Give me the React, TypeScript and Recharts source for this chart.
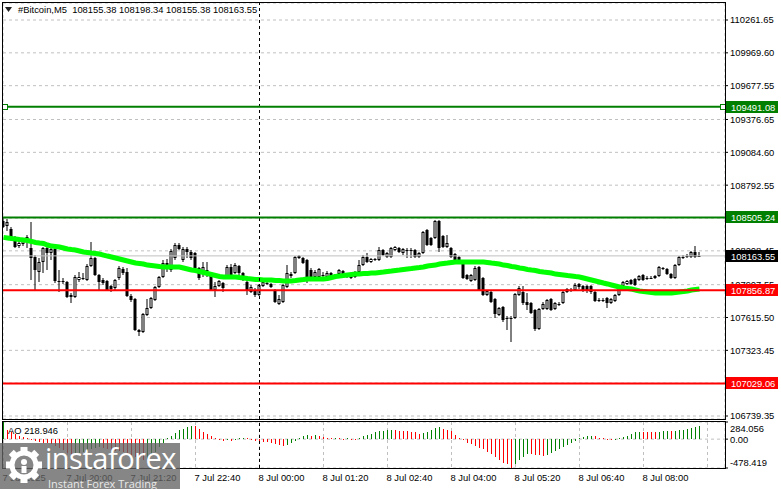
import React from "react";
import {
  ComposedChart,
  Bar,
  Line,
  XAxis,
  YAxis,
  CartesianGrid,
  ReferenceLine,
  ReferenceDot,
} from "recharts";

const FONT = '"Liberation Sans", "DejaVu Sans", Arial, sans-serif';

/* ===== Data (M5 bars, 7 Jul 18:40 -> 8 Jul 09:10) ===== */
const OPEN = [
  108474, 108429, 108403, 108323, 108251, 108269, 108296, 108234, 108154, 108020,
  108109, 108234, 108189, 108225, 107940, 107935, 107931, 107816, 107798, 107949,
  107967, 107949, 108074, 108145, 107994, 107949, 107940, 107896, 107878, 107967,
  108047, 108020, 107807, 107780, 107504, 107487, 107638, 107700, 107771, 107887,
  107976, 108100, 108038, 108145, 108260, 108127, 108225, 108198, 108189, 108056,
  108011, 108040, 107994, 107860, 107896, 107922, 107976, 108065, 108011, 108074,
  108011, 107931, 107842, 107860, 107816, 107896, 107924, 107914, 107860, 107736,
  107753, 107887, 107985, 108011, 108162, 108145, 108127, 108038, 107976, 107976,
  107996, 107976, 108011, 107987, 108002, 108029, 107976, 107994, 108011, 108020,
  108082, 108154, 108109, 108127, 108127, 108216, 108154, 108154, 108216, 108234,
  108189, 108218, 108216, 108216, 108154, 108189, 108394, 108323, 108323, 108474,
  108340, 108243, 108234, 108180, 108154, 108100, 107994, 107940, 107949, 108065,
  107967, 107816, 107842, 107780, 107638, 107709, 107613, 107609, 107611, 107816,
  107842, 107753, 107745, 107682, 107513, 107691, 107691, 107780, 107691, 107738,
  107745, 107842, 107851, 107860, 107914, 107896, 107896, 107896, 107842, 107773,
  107771, 107789, 107745, 107762, 107816, 107896, 107914, 107949, 107958, 107949,
  107994, 107969, 107967, 107967, 107985, 108058, 108047, 108002, 107967, 108082,
  108152, 108154, 108154, 108198, 108155.38,
];
const HIGH = [
  108509, 108492, 108420, 108340, 108296, 108323, 108349, 108465, 108171, 108145,
  108243, 108243, 108234, 108234, 108038, 107967, 107940, 107833, 107994, 108020,
  108011, 108091, 108287, 108154, 108002, 107967, 107949, 107905, 107958, 108074,
  108065, 108056, 107825, 107789, 107513, 107656, 107780, 107798, 107896, 107985,
  108127, 108136, 108225, 108278, 108278, 108243, 108243, 108216, 108198, 108065,
  108109, 108109, 108002, 107931, 107949, 107931, 108082, 108091, 108100, 108082,
  108020, 107949, 107905, 107878, 107914, 107940, 107940, 107922, 107869, 107816,
  107914, 108082, 108020, 108162, 108171, 108154, 108136, 108056, 108038, 108056,
  108020, 108029, 108020, 108002, 108047, 108038, 108011, 108011, 108029, 108127,
  108171, 108189, 108145, 108145, 108243, 108225, 108198, 108243, 108251, 108243,
  108234, 108234, 108234, 108225, 108198, 108385, 108403, 108332, 108483, 108483,
  108349, 108349, 108243, 108189, 108162, 108109, 108002, 108002, 108074, 108074,
  107976, 107860, 107851, 107789, 107709, 107718, 107629, 107629, 107833, 107896,
  107896, 107833, 107753, 107691, 107700, 107753, 107780, 107789, 107753, 107753,
  107851, 107878, 107878, 107922, 107922, 107905, 107905, 107905, 107851, 107789,
  107789, 107798, 107789, 107825, 107896, 107940, 107949, 107958, 107967, 107994,
  108002, 107985, 107985, 107994, 108074, 108065, 108056, 108011, 108091, 108162,
  108171, 108180, 108207, 108251, 108198.34,
];
const LOW = [
  108412, 108385, 108323, 108234, 108234, 108251, 108234, 107949, 107860, 107931,
  108011, 108038, 108127, 107922, 107842, 107914, 107789, 107745, 107789, 107931,
  107949, 107940, 108065, 107985, 107860, 107905, 107851, 107842, 107860, 107949,
  107994, 107798, 107753, 107495, 107451, 107478, 107629, 107691, 107762, 107878,
  107967, 108020, 108020, 108127, 108216, 108109, 108145, 108127, 108038, 107949,
  107976, 107976, 107851, 107798, 107887, 107842, 107967, 107985, 108002, 107994,
  107940, 107816, 107833, 107798, 107807, 107887, 107905, 107878, 107745, 107727,
  107745, 107878, 107967, 108002, 108136, 108091, 107922, 107967, 107967, 107967,
  107967, 107967, 107958, 107967, 107994, 107985, 107967, 107958, 107967, 108011,
  108074, 108100, 108100, 108118, 108118, 108162, 108145, 108145, 108207, 108189,
  108171, 108145, 108145, 108145, 108145, 108180, 108251, 108251, 108314, 108198,
  108234, 108234, 108145, 108109, 108091, 107958, 107949, 107931, 107940, 107851,
  107807, 107807, 107745, 107611, 107629, 107576, 107504, 107398, 107602, 107807,
  107727, 107682, 107647, 107495, 107504, 107682, 107682, 107673, 107682, 107718,
  107736, 107833, 107842, 107851, 107869, 107842, 107833, 107825, 107753, 107753,
  107753, 107700, 107736, 107753, 107807, 107887, 107905, 107905, 107896, 107940,
  107940, 107949, 107958, 107958, 107976, 108038, 107994, 107958, 107958, 108074,
  108136, 108145, 108145, 108145, 108155.38,
];
const CLOSE = [
  108420, 108465, 108332, 108243, 108278, 108305, 108332, 108145, 108038, 108109,
  108234, 108189, 108225, 107940, 107931, 107936, 107798, 107798, 107976, 107976,
  107969, 108074, 108145, 107994, 107931, 107922, 107860, 107869, 107949, 108056,
  108011, 107807, 107771, 107504, 107487, 107647, 107700, 107789, 107887, 107976,
  108100, 108056, 108207, 108260, 108225, 108225, 108198, 108145, 108056, 107967,
  108065, 108036, 107860, 107896, 107940, 107878, 108065, 107994, 108082, 108011,
  107949, 107851, 107887, 107816, 107905, 107931, 107921, 107887, 107753, 107780,
  107905, 108011, 108002, 108154, 108145, 108100, 107967, 107976, 108020, 108047,
  107992, 108011, 107967, 107983, 108038, 107994, 108002, 107967, 107976, 108082,
  108154, 108109, 108136, 108136, 108216, 108171, 108189, 108234, 108243, 108198,
  108225, 108214, 108212, 108154, 108189, 108376, 108260, 108260, 108474, 108234,
  108243, 108278, 108154, 108127, 108100, 107967, 107958, 107994, 108056, 107860,
  107816, 107851, 107753, 107647, 107700, 107593, 107609, 107611, 107825, 107878,
  107745, 107727, 107656, 107513, 107691, 107736, 107771, 107682, 107745, 107734,
  107842, 107869, 107860, 107905, 107887, 107860, 107860, 107842, 107762, 107769,
  107768, 107745, 107780, 107816, 107887, 107931, 107940, 107914, 107905, 107985,
  107949, 107965, 107964, 107985, 108065, 108054, 108002, 107967, 108082, 108154,
  108156, 108162, 108198, 108154, 108163.55,
];
// moving average (bright green line)
const MA = [
  108328, 108323, 108318, 108314, 108309, 108305, 108300, 108292, 108283, 108278,
  108274, 108260, 108251, 108247, 108243, 108234, 108225, 108220, 108216, 108207,
  108198, 108194, 108189, 108185, 108180, 108171, 108162, 108154, 108145, 108136,
  108127, 108118, 108109, 108100, 108096, 108091, 108082, 108078, 108074, 108069,
  108065, 108065, 108065, 108065, 108065, 108056, 108047, 108038, 108034, 108025,
  108016, 108007, 107998, 107989, 107980, 107976, 107976, 107976, 107976, 107971,
  107967, 107962, 107958, 107953, 107953, 107949, 107949, 107949, 107944, 107944,
  107940, 107940, 107940, 107944, 107949, 107953, 107958, 107958, 107958, 107958,
  107958, 107962, 107971, 107980, 107985, 107989, 107994, 107998, 108002, 108002,
  108007, 108007, 108011, 108011, 108016, 108020, 108025, 108029, 108034, 108038,
  108043, 108047, 108051, 108056, 108060, 108065, 108074, 108078, 108082, 108091,
  108096, 108100, 108105, 108109, 108109, 108109, 108109, 108109, 108109, 108109,
  108109, 108105, 108100, 108096, 108091, 108082, 108078, 108069, 108065, 108056,
  108051, 108043, 108038, 108034, 108025, 108020, 108016, 108011, 108002, 107998,
  107994, 107989, 107985, 107980, 107976, 107967, 107958, 107949, 107940, 107931,
  107922, 107914, 107905, 107896, 107887, 107878, 107874, 107869, 107860, 107851,
  107847, 107842, 107838, 107833, 107833, 107833, 107833, 107833, 107838, 107842,
  107847, 107851, 107860, 107865, 107869,
];
// Awesome Oscillator sub-window
const AO = [
  284.056, 147, 113, 85, 56, 34, 11, -11, -28, -45,
  -56, -68, -85, -113, -141, -181, -226, -265, -254, -226,
  -209, -192, -169, -147, -136, -147, -164, -181, -192, -198,
  -215, -237, -265, -294, -322, -339, -322, -265, -209, -136,
  -56, 11, 56, 102, 147, 169, 203, 226, 215, 169,
  124, 90, 56, 11, -11, -28, -11, -23, 2, 11,
  17, 12, -11, -23, -34, -45, -51, -68, -79, -90,
  -113, -102, -68, -23, 11, 45, 68, 56, 73, 56,
  34, 23, 11, 17, 11, 6, 11, 6, 1, 17,
  45, 68, 90, 113, 130, 141, 150, 152, 147, 141,
  136, 130, 124, 113, 90, 102, 124, 158, 186, 198,
  175, 158, 130, 73, 17, -6, -56, -79, -113, -141,
  -169, -209, -248, -294, -350, -390, -418, -478.419, -407, -350,
  -294, -248, -254, -260, -271, -282, -265, -237, -203, -169,
  -136, -96, -56, -23, 11, 28, 45, 51, 45, 23,
  11, 2, -4, 1, 11, 34, 56, 90, 113, 124,
  119, 118, 113, 112, 124, 130, 136, 130, 141, 147,
  158, 169, 186, 203, 218.946,
];

const PRICE_TICKS = [
  110261.65, 109969.6, 109677.55, 109376.65, 109084.6, 108792.55, 108500.45,
  108208.45, 107907.55, 107615.5, 107323.45, 107031.4, 106739.35,
];
const TIME_BARS = [0, 16, 32, 48, 64, 80, 96, 112, 128, 144, 160, 176];
const TIME_LABELS = [
  "7 Jul 2025", "7 Jul 20:00", "7 Jul 21:20", "7 Jul 22:40", "8 Jul 00:00",
  "8 Jul 01:20", "8 Jul 02:40", "8 Jul 04:00", "8 Jul 05:20", "8 Jul 06:40",
  "8 Jul 08:00",
];
const DAY_BREAK = 64;
const LEVELS = [
  { price: 109491.08, color: "#007f00" },
  { price: 108505.24, color: "#007f00" },
  { price: 107856.87, color: "#ff0000" },
  { price: 107029.06, color: "#ff0000" },
];
const LAST_PRICE = 108163.55;
const AO_TICKS = [284.056, 0, -478.419];
const AO_TICK_LABELS = ["284.056", "0.00", "-478.419"];

const X_DOMAIN = [-0.125, 180.375];
const P_DOMAIN = [106712.74, 110412.86];
const AO_DOMAIN = [-478.419, 284.056];

const rows = CLOSE.map((c, i) => ({
  i,
  open: OPEN[i],
  high: HIGH[i],
  low: LOW[i],
  close: c,
  range: [LOW[i], HIGH[i]],
  ma: MA[i],
  ao: AO[i],
}));

/* ===== Candle shape ===== */
function Candle(props: any) {
  const { x, y, width, height, payload } = props;
  if (x == null || y == null) return null;
  const top = Math.min(y, y + height);
  const h = Math.abs(height);
  const span = payload.high - payload.low || 1;
  const yo = top + ((payload.high - payload.open) / span) * h;
  const yc = top + ((payload.high - payload.close) / span) * h;
  const cx = x + width / 2;
  const bTop = Math.round(Math.min(yo, yc));
  const bBot = Math.round(Math.max(yo, yc));
  const bull = payload.close > payload.open;
  return (
    <g>
      <line x1={cx} x2={cx} y1={Math.round(top)} y2={Math.round(top + h)} stroke="#000" strokeWidth={1} />
      {bBot - bTop < 2 ? (
        <rect x={x} y={bTop} width={width} height={1} fill="#000" />
      ) : bull ? (
        <rect x={x + 0.5} y={bTop + 0.5} width={width - 1} height={bBot - bTop - 1} fill="#fff" stroke="#000" strokeWidth={1} />
      ) : (
        <rect x={x} y={bTop} width={width} height={bBot - bTop} fill="#000" />
      )}
    </g>
  );
}

/* ===== AO histogram stick: green when rising, red when falling ===== */
function AoStick(props: any) {
  const { x, y, width, height, index } = props;
  if (x == null || y == null) return null;
  const up = index === 0 || AO[index] > AO[index - 1];
  const top = Math.round(Math.min(y, y + height));
  const bot = Math.round(Math.max(y, y + height));
  const cx = Math.floor(x + width / 2) + 0.5;
  return (
    <line
      x1={cx}
      x2={cx}
      y1={top}
      y2={Math.max(top + 1, bot)}
      stroke={up ? "#008000" : "#ff0000"}
      strokeWidth={1}
      shapeRendering="crispEdges"
    />
  );
}

/* ===== Price tag on the right scale ===== */
function PriceTag({ viewBox, text, bg }: any) {
  if (!viewBox) return null;
  const yy = Math.round(viewBox.y);
  const x0 = viewBox.x + viewBox.width + 1;
  return (
    <g>
      <rect x={x0} y={yy - 6} width={52} height={12} fill={bg} />
      <text x={x0 + 5} y={yy + 3.5} fill="#fff" fontSize={9.4} fontFamily={FONT}>
        {text}
      </text>
    </g>
  );
}

function TimeTick({ x, y, payload }: any) {
  const idx = TIME_BARS.indexOf(payload.value);
  const label = TIME_LABELS[idx];
  if (!label) return null;
  return (
    <text x={x - 1} y={y + 5} fill="#000" fontSize={9.4} fontFamily={FONT} textAnchor="start">
      {label}
    </text>
  );
}

function AoTick({ x, y, payload }: any) {
  const idx = AO_TICKS.indexOf(payload.value);
  const shift = idx === 0 ? 6 : idx === 2 ? -6 : 0;
  return (
    <text x={x} y={y + shift + 3.5} fill="#000" fontSize={9.4} fontFamily={FONT} textAnchor="start">
      {AO_TICK_LABELS[idx]}
    </text>
  );
}

function Square({ cx, cy }: any) {
  return <rect x={Math.round(cx) - 2.5} y={Math.round(cy) - 2.5} width={5} height={5} fill="#fff" stroke="#007f00" />;
}

const priceX = (
  <XAxis
    dataKey="i"
    type="number"
    domain={X_DOMAIN}
    allowDataOverflow
    ticks={TIME_BARS}
    interval={0}
    height={0}
    tick={false}
    axisLine={false}
    tickLine={false}
  />
);

export default function App() {
  return (
    <div
      style={{
        position: "absolute",
        left: 0,
        top: 0,
        width: 781,
        height: 489,
        background: "#fff",
        overflow: "hidden",
        fontFamily: FONT,
      }}
    >
      {/* ===== Price window ===== */}
      <div style={{ position: "absolute", left: 0, top: 0 }}>
        <ComposedChart width={781} height={420} data={rows} margin={{ top: 3, right: 0, bottom: 1, left: 3 }}>
          <CartesianGrid stroke="#c0c0c0" strokeDasharray="3 3" />
          {priceX}
          <YAxis
            orientation="right"
            width={56}
            type="number"
            domain={P_DOMAIN}
            allowDataOverflow
            ticks={PRICE_TICKS}
            interval={0}
            tickFormatter={(v: number) => v.toFixed(2)}
            tick={{ fill: "#000", fontSize: 9.4, fontFamily: FONT }}
            tickSize={3}
            tickMargin={2}
            axisLine={false}
            tickLine={{ stroke: "#000" }}
          />
          <ReferenceLine y={LAST_PRICE} stroke="#c0c0c0" />
          <Bar dataKey="range" barSize={3} isAnimationActive={false} shape={(p: any) => <Candle {...p} />} />
          <Line dataKey="ma" stroke="#00ff00" strokeWidth={5} dot={false} activeDot={false} isAnimationActive={false} />
          <ReferenceLine x={DAY_BREAK} stroke="#000" strokeDasharray="3 3" />
        </ComposedChart>
      </div>

      {/* ===== Horizontal levels and their price tags (drawn above the scale) ===== */}
      <div style={{ position: "absolute", left: 0, top: 0 }}>
        <ComposedChart width={781} height={420} data={rows} margin={{ top: 3, right: 0, bottom: 1, left: 3 }}>
          {priceX}
          <YAxis
            orientation="right"
            width={56}
            type="number"
            domain={P_DOMAIN}
            allowDataOverflow
            tick={false}
            tickLine={false}
            axisLine={false}
          />
          <ReferenceLine
            y={LAST_PRICE}
            strokeOpacity={0}
            label={<PriceTag text={LAST_PRICE.toFixed(2)} bg="#000" />}
          />
          {LEVELS.map((l) => (
            <ReferenceLine
              key={l.price}
              y={l.price}
              stroke={l.color}
              strokeWidth={2}
              label={<PriceTag text={l.price.toFixed(2)} bg={l.color} />}
            />
          ))}
          <ReferenceDot x={0.375} y={LEVELS[0].price} r={3} shape={(p: any) => <Square {...p} />} />
          <ReferenceDot x={179.75} y={LEVELS[0].price} r={3} shape={(p: any) => <Square {...p} />} />
        </ComposedChart>
      </div>
      <div
        style={{
          position: "absolute",
          left: 2,
          top: 2,
          width: 722,
          height: 416,
          border: "1px solid #000",
          pointerEvents: "none",
        }}
      />

      {/* ===== AO window ===== */}
      <div style={{ position: "absolute", left: 0, top: 421 }}>
        <ComposedChart width={781} height={68} data={rows} margin={{ top: 1, right: 0, bottom: 0, left: 3 }}>
          <CartesianGrid stroke="#c0c0c0" strokeDasharray="3 3" />
          <XAxis
            dataKey="i"
            type="number"
            domain={X_DOMAIN}
            allowDataOverflow
            ticks={TIME_BARS}
            interval={0}
            height={21}
            axisLine={false}
            tickLine={false}
            tick={<TimeTick />}
          />
          <YAxis
            orientation="right"
            width={56}
            type="number"
            domain={AO_DOMAIN}
            allowDataOverflow
            ticks={AO_TICKS}
            interval={0}
            tick={<AoTick />}
            tickSize={3}
            tickMargin={2}
            axisLine={false}
            tickLine={{ stroke: "#000" }}
          />
          <Bar dataKey="ao" barSize={1} isAnimationActive={false} shape={(p: any) => <AoStick {...p} />} />
          <ReferenceLine x={DAY_BREAK} stroke="#000" strokeDasharray="3 3" />
        </ComposedChart>
      </div>
      <div
        style={{
          position: "absolute",
          left: 2,
          top: 421,
          width: 722,
          height: 46,
          border: "1px solid #000",
          pointerEvents: "none",
        }}
      />

      {/* ===== Header / indicator caption ===== */}
      <svg style={{ position: "absolute", left: 5, top: 7 }} width={8} height={6}>
        <polygon points="0,0 7,0 3.5,5" fill="#222" />
      </svg>
      <div
        style={{
          position: "absolute",
          left: 18,
          top: 4,
          fontSize: 9.4,
          color: "#000",
          whiteSpace: "pre",
          lineHeight: "12px",
        }}
      >
        {"#Bitcoin,M5  108155.38 108198.34 108155.38 108163.55"}
      </div>
      <div
        style={{
          position: "absolute",
          left: 8,
          top: 425,
          fontSize: 9.4,
          color: "#000",
          whiteSpace: "pre",
          lineHeight: "12px",
        }}
      >
        {`AO ${AO[AO.length - 1]}`}
      </div>

      {/* ===== Watermark ===== */}
      <div
        style={{
          position: "absolute",
          left: 0,
          top: 443,
          width: 180,
          height: 46,
          background: "rgba(100,100,100,0.78)",
        }}
      >
        <svg style={{ position: "absolute", left: 5, top: 3 }} width={38} height={38}>
          <g transform="translate(19,19)">
            {[0, 45, 90, 135, 180, 225, 270, 315].map((a) => (
              <rect key={a} x={-3.5} y={-18} width={7} height={8} fill="#fff" transform={`rotate(${a})`} />
            ))}
            <circle r={12} fill="none" stroke="#fff" strokeWidth={5} />
            <circle r={3} cy={-3} fill="#fff" />
            <rect x={-2.5} y={1} width={5} height={7} fill="#fff" />
          </g>
        </svg>
        <div
          style={{
            position: "absolute",
            left: 45,
            top: -5,
            color: "#fff",
            fontSize: 29,
            fontFamily: '"Open Sans", sans-serif',
            letterSpacing: -0.5,
          }}
        >
          instaforex
        </div>
        <div
          style={{
            position: "absolute",
            left: 48,
            top: 33,
            color: "#e8e8e8",
            fontSize: 11,
            fontFamily: '"Open Sans", sans-serif',
          }}
        >
          Instant Forex Trading
        </div>
      </div>
    </div>
  );
}
